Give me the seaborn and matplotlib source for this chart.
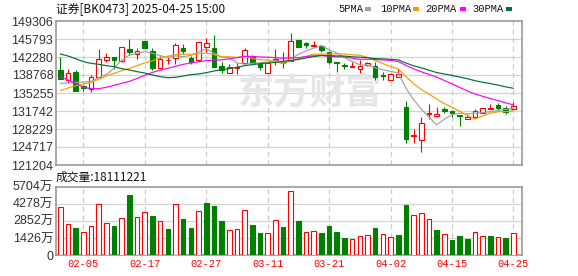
import numpy as np
import pandas as pd
import matplotlib
matplotlib.use("Agg")
import matplotlib.pyplot as plt
from matplotlib.patches import Rectangle
import seaborn as sns

# ---------------- data ----------------
dates = ["01-23", "01-24", "01-27",
         "02-05", "02-06", "02-07", "02-10", "02-11", "02-12", "02-13", "02-14", "02-17", "02-18",
         "02-19", "02-20", "02-21", "02-24", "02-25", "02-26", "02-27", "02-28",
         "03-03", "03-04", "03-05", "03-06", "03-07", "03-10", "03-11", "03-12", "03-13", "03-14",
         "03-17", "03-18", "03-19", "03-20", "03-21", "03-24", "03-25", "03-26", "03-27", "03-28", "03-31",
         "04-01", "04-02", "04-03", "04-07", "04-08", "04-09", "04-10", "04-11", "04-14", "04-15",
         "04-16", "04-17", "04-18", "04-21", "04-22", "04-23", "04-24", "04-25"]

open_ = [139744, 137792, 139418, 136621, 135966, 138443, 141760, 142216, 141435, 143777,
         142801, 145403, 143451, 140068, 141695, 142020, 144037, 142020, 141630, 144167,
         144037, 140524, 139093, 140199, 141175, 142541, 140849, 139093, 141695, 141435,
         141435, 145533, 145078, 144427, 144427, 143256, 141240, 140654, 140329, 139983,
         140654, 140524, 138768, 137857, 138313, 132458, 126929, 126083, 131157, 130832,
         132197, 131742, 130962, 130116, 130637, 131287, 132132, 132978, 132262, 132067]

high = [142216, 139874, 139679, 136751, 138698, 143842, 143061, 142216, 144167, 145793,
        143972, 145468, 144037, 142476, 142216, 144948, 144817, 142476, 145143, 145923,
        146574, 141240, 140914, 141045, 143972, 142671, 141045, 141175, 143842, 143321,
        146899, 145533, 145208, 145468, 144557, 143451, 141305, 141175, 141305, 141695,
        141305, 141240, 139418, 139065, 139998, 133693, 128229, 130507, 133043, 132458,
        132458, 131807, 130962, 131092, 132132, 132393, 133108, 133238, 132718, 133563]

low = [137900, 137142, 135646, 135711, 135515, 138313, 141370, 140003, 141305, 142671,
       141955, 143972, 139744, 140068, 140849, 140849, 142866, 140979, 141240, 143321,
       140264, 139093, 139093, 138898, 141045, 141175, 139744, 139093, 140719, 140199,
       141435, 144167, 143972, 144167, 143321, 140979, 139418, 139874, 140264, 139223,
       140589, 137792, 137792, 137857, 138313, 125563, 125563, 123676, 130246, 130637,
       131352, 130637, 128815, 130116, 130637, 131287, 132067, 131807, 131222, 132067]

close = [138052, 139093, 135711, 136166, 138443, 141825, 142216, 141760, 144167, 143321,
         143386, 144102, 140068, 141825, 141760, 144622, 143451, 141240, 145143, 144948,
         140394, 139744, 140264, 140329, 143646, 141175, 140394, 141045, 141955, 141175,
         145338, 144297, 144687, 144700, 143646, 141305, 141045, 140459, 140500, 140590,
         141045, 138312, 138573, 139000, 138950, 126213, 127059, 129336, 131352, 131157,
         131807, 131417, 130832, 130637, 131807, 132393, 132262, 132328, 131612, 132718]

# volume in 万
volume = [3980, 2560, 2254, 1920, 2393, 4258, 2644, 2421, 3061, 5009,
          3145, 3562, 3256, 2811, 2171, 4258, 3006, 2254, 3674, 4341,
          4091, 2839, 2087, 2143, 3729, 2505, 1865, 1837, 2894, 2338,
          5343, 2839, 1920, 2004, 1837, 2421, 1920, 1419, 1308, 1558,
          1642, 2254, 1753, 1503, 1670, 4202, 3340, 3507, 2978, 2087,
          1753, 1252, 1586, 1336, 1920, 1586, 1586, 1503, 1419, 1811]

ma5 = [137140, 137200, 137330, 137400, 137493, 138248, 138872, 140082, 141682, 142658,
       142970, 143347, 143009, 142540, 142228, 142475, 142345, 142580, 143243, 143881,
       143035, 142294, 142099, 141136, 140875, 141032, 141162, 141318, 141643, 141149,
       141981, 142762, 143490, 144024, 144518, 143711, 143061, 142215, 141383, 140758,
       140706, 140160, 139783, 139483, 139171, 136205, 133954, 132107, 130585, 129023,
       130142, 131014, 131313, 131170, 131300, 131417, 131586, 131885, 132080, 132263]

ma10 = [135710, 136230, 136686, 137011, 137337, 137922, 138573, 139093, 139614, 140075,
        140609, 141110, 141545, 142111, 142443, 142723, 142846, 142794, 142892, 143055,
        142755, 142320, 142339, 142190, 142378, 142033, 141728, 141708, 141389, 141012,
        141507, 141962, 142404, 142833, 142833, 142846, 142912, 142853, 142703, 142638,
        142209, 141610, 140999, 140433, 139965, 138456, 137057, 135945, 135034, 134097,
        133174, 132484, 131710, 130877, 130162, 130780, 131300, 131599, 131625, 131781]

ma20 = [138442, 137792, 137142, 136361, 136101, 136101, 136361, 136751, 137142, 137532,
        138100, 138700, 139288, 139679, 140069, 140459, 140850, 141110, 141370, 141565,
        141682, 141715, 141942, 142150, 142411, 142378, 142287, 142251, 142141, 142033,
        142131, 142141, 142372, 142511, 142606, 142440, 142320, 142281, 142046, 141825,
        141858, 141786, 141702, 141633, 141399, 140651, 139984, 139399, 138869, 138368,
        137691, 137047, 136354, 135655, 135063, 134618, 134179, 133772, 133330, 132939]

ma30 = [142866, 142476, 141955, 141370, 141045, 140850, 140589, 140394, 140004, 139744,
        139419, 139158, 138768, 138443, 138248, 138313, 138573, 138833, 138963, 139223,
        139548, 139809, 140004, 140264, 140589, 140785, 140980, 141110, 141240, 141381,
        141624, 141797, 142096, 142378, 142551, 142534, 142495, 142452, 142328, 142235,
        142157, 141964, 141914, 141819, 141725, 141112, 140565, 140169, 139709, 139249,
        138963, 138685, 138371, 138048, 137653, 137360, 137090, 136799, 136454, 136172]

price_ticks = [149306, 145793, 142280, 138768, 135255, 131742, 128229, 124717, 121204]
vol_ticks = [0, 1426, 2852, 4278, 5704]
vol_tick_labels = ["0", "1426万", "2852万", "4278万", "5704万"]
date_ticks = ["02-05", "02-17", "02-27", "03-11", "03-21", "04-02", "04-15", "04-25"]
title = "证券[BK0473] 2025-04-25 15:00"
vol_title = "成交量:18111221"
ma_names = ["5PMA", "10PMA", "20PMA", "30PMA"]

# ---------------- style ----------------
sns.set_theme(style="white")
plt.rcParams['font.family'] = ['Liberation Sans', 'Noto Sans CJK SC']

RED = "#ff0000"
GREEN = "#008000"
MA_COLORS = ["#a0a0a0", "#f0a000", "#ff00ff", "#006f3c"]
GRID = "#d4d4d4"
BORDER = "#999999"

df = pd.DataFrame({"date": dates, "open": open_, "high": high, "low": low,
                   "close": close, "volume": volume,
                   "ma5": ma5, "ma10": ma10, "ma20": ma20, "ma30": ma30})
df["x"] = np.arange(len(df))
df["up"] = df["close"] >= df["open"]
prev_close = df["close"].shift(1)
df["vol_up"] = (df["close"] >= prev_close) | prev_close.isna()

W, H = 578, 276
fig = plt.figure(figsize=(W / 100, H / 100), dpi=100)
ax = fig.add_axes([56 / W, (H - 165) / H, 466 / W, 144 / H])
axv = fig.add_axes([56 / W, (H - 255) / H, 466 / W, 68.3 / H])

xlim = (-0.56, 60.12)
tick_pos = [dates.index(d) for d in date_ticks]

for a in (ax, axv):
    a.set_xlim(*xlim)
    for s in a.spines.values():
        s.set_color(BORDER)
        s.set_linewidth(1.2)
    a.set_xticks(tick_pos)
    for xp in tick_pos:
        a.axvline(xp, color="#cccccc", lw=0.9, ls=(0, (4, 3)), zorder=0.5)
    a.tick_params(length=0, pad=2)
    a.set_xlabel("")
    a.set_ylabel("")

# ---------------- price panel ----------------
ax.set_ylim(price_ticks[-1], price_ticks[0])
ax.set_yticks(price_ticks)
ax.set_yticklabels([str(v) for v in price_ticks], fontsize=9, color="#333333")
for v in price_ticks[1:-1]:
    ax.axhline(v, color=GRID, lw=0.9, zorder=0.4)
ax.set_xticklabels([])

ax.text(32.5, 135255, "东方财富", fontsize=26, fontweight="bold", color="#e6e6ea",
        ha="center", va="center", family=["Noto Sans CJK SC"], zorder=0.6)

cols = np.where(df["up"], RED, GREEN)
ax.vlines(df["x"], df["low"], df["high"], colors=cols, lw=0.8, zorder=3)
body_bottom = np.minimum(df["open"], df["close"])
body_h = np.maximum(np.abs(df["close"] - df["open"]), 90)
ax.bar(df["x"], body_h, bottom=body_bottom, width=0.6,
       color=np.where(df["up"], "white", GREEN), edgecolor=cols, linewidth=0.8, zorder=4)

for name, c in zip(["ma5", "ma10", "ma20", "ma30"], MA_COLORS):
    sns.lineplot(data=df, x="x", y=name, ax=ax, color=c, lw=0.85, zorder=5, legend=False)
ax.set_xlabel("")
ax.set_ylabel("")
ax.set_xlim(*xlim)
ax.set_ylim(price_ticks[-1], price_ticks[0])

# ---------------- volume panel ----------------
axv.set_ylim(0, vol_ticks[-1])
axv.set_yticks(vol_ticks)
axv.set_yticklabels(vol_tick_labels, fontsize=9, color="#333333")
for v in vol_ticks[1:-1]:
    axv.axhline(v, color=GRID, lw=0.9, zorder=0.4)
vcols = np.where(df["vol_up"], RED, GREEN)
axv.bar(df["x"], df["volume"], width=0.6, color=np.where(df["vol_up"], "white", GREEN),
        edgecolor=vcols, linewidth=0.8, zorder=3)
axv.set_xticklabels(date_ticks, fontsize=7.5, color=RED, family=["Liberation Mono"])
axv.tick_params(axis="x", pad=3)

# ---------------- texts ----------------
fig.text(56 / W, 1 - 8.5 / H, title, fontsize=8.5, va="center", ha="left",
         family=["Noto Sans CJK SC"], color="#111111")
fig.text(56 / W, 1 - 177 / H, vol_title, fontsize=8.5, va="center", ha="left",
         family=["Noto Sans CJK SC"], color="#111111")

leg_x = [338, 380, 425, 472]
sq_x = [365, 413, 460, 506]
for name, lx, sx, c in zip(ma_names, leg_x, sq_x, MA_COLORS):
    fig.text(lx / W, 1 - 9 / H, name, fontsize=7.5, va="center", ha="left",
             family=["Liberation Mono"], color="#111111")
    fig.add_artist(Rectangle((sx / W, 1 - 11 / H), 6 / W, 4 / H, transform=fig.transFigure,
                             facecolor=c, edgecolor="none"))

fig.savefig("out.png", dpi=100)
